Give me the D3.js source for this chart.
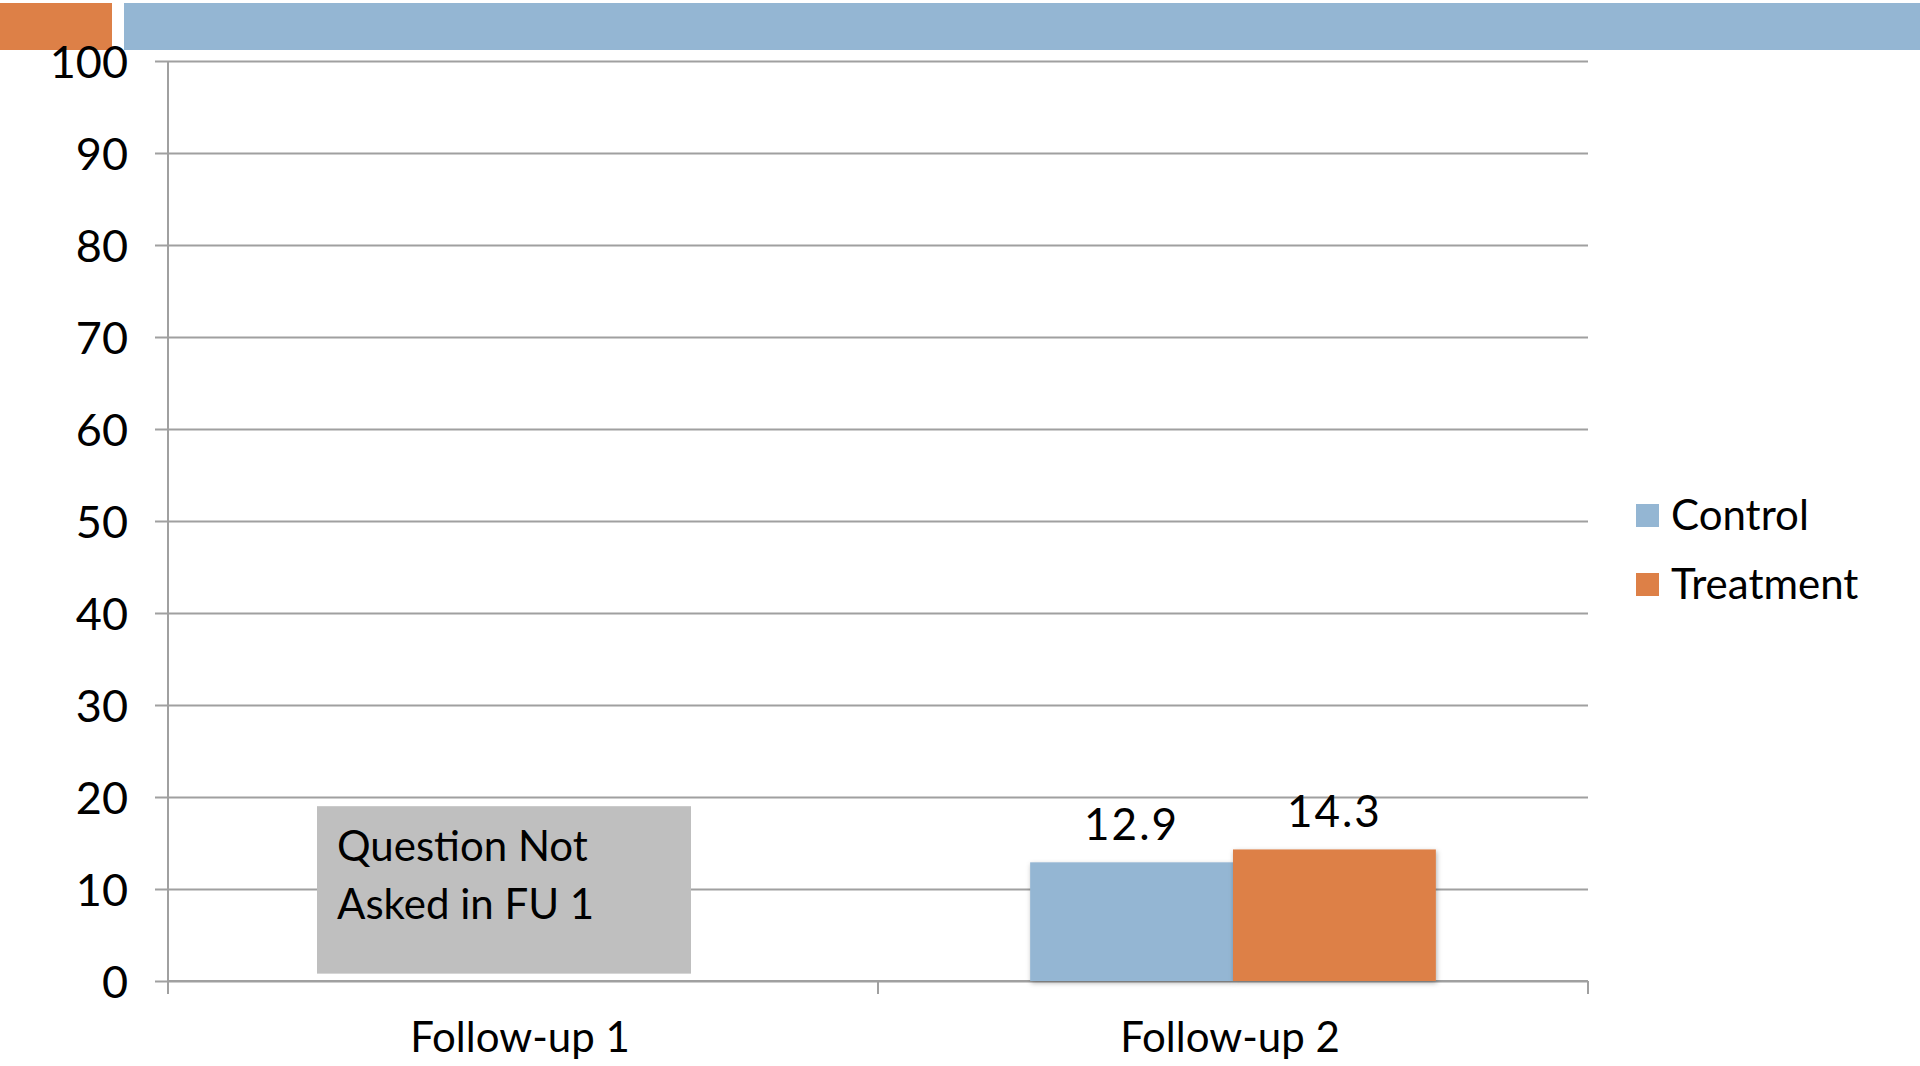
<!DOCTYPE html>
<html>
<head>
<meta charset="utf-8">
<script src="https://cdn.jsdelivr.net/npm/d3@7"></script>
<style>
  html, body { margin: 0; padding: 0; background: #ffffff; }
  svg { display: block; }
  text { font-family: "Lato", "Open Sans", sans-serif; fill: #000; }
</style>
</head>
<body>
<svg id="chart" width="1920" height="1066"></svg>
<script>
// Survey follow-up rounds and group results (%)
const categories = ["Follow-up 1", "Follow-up 2"];
const seriesNames = ["Control", "Treatment"];
const controlValues = [null, 12.9];
const treatmentValues = [null, 14.3];
const yTicks = [0, 10, 20, 30, 40, 50, 60, 70, 80, 90, 100];
const noteLines = ["Question Not", "Asked in FU 1"];
const noteRange = [0.8, 19];

const colors = { Control: "#94b6d3", Treatment: "#dd8047" };

const svg = d3.select("#chart");
const W = 1920, H = 1066;
const m = { left: 168, right: 1588, top: 61, bottom: 981 };

// Header banner strips
svg.append("rect").attr("x", 0).attr("y", 3).attr("width", 112).attr("height", 47).attr("fill", "#dd8047");
svg.append("rect").attr("x", 124).attr("y", 3).attr("width", W - 124).attr("height", 47).attr("fill", "#94b6d3");

const x0 = d3.scaleBand().domain(categories).range([m.left, m.right]).paddingInner(0).paddingOuter(0);
const x1 = d3.scaleBand().domain(seriesNames).range([0, x0.bandwidth()]).paddingInner(0).paddingOuter(0.75);
const y = d3.scaleLinear().domain([0, 100]).range([m.bottom, m.top]);

// Horizontal gridlines with outward ticks
const yAxis = d3.axisLeft(y).tickValues(yTicks).tickSize(-(m.right - m.left)).tickPadding(40).tickFormat(d3.format("d"));
const gy = svg.append("g").attr("transform", `translate(${m.left},0)`).call(yAxis);
gy.select(".domain").remove();
gy.selectAll(".tick line").attr("stroke", "#a0a0a0").attr("stroke-width", 2).attr("x1", -13);
gy.selectAll(".tick text").attr("font-size", 45).attr("font-family", "Lato, sans-serif").attr("fill", "#000").attr("dy", "0.36em");

// Vertical axis line
svg.append("line").attr("x1", m.left).attr("x2", m.left).attr("y1", m.top).attr("y2", m.bottom + 13)
  .attr("stroke", "#a0a0a0").attr("stroke-width", 2);

// Category axis with boundary ticks
const gx = svg.append("g").attr("transform", `translate(0,${m.bottom})`);
gx.append("line").attr("x1", m.left).attr("x2", m.right).attr("stroke", "#a0a0a0").attr("stroke-width", 2);
const bounds = categories.map(c => x0(c)).concat([x0(categories[categories.length - 1]) + x0.bandwidth()]);
gx.selectAll("line.bt").data(bounds).join("line").attr("class", "bt")
  .attr("x1", d => d).attr("x2", d => d).attr("y1", 0).attr("y2", 13)
  .attr("stroke", "#a0a0a0").attr("stroke-width", 2);
gx.selectAll("text").data(categories).join("text")
  .attr("x", d => x0(d) + x0.bandwidth() / 2 - 3)
  .attr("y", 71)
  .attr("text-anchor", "middle")
  .attr("font-size", 42)
  .text(d => d);

// Bars
const defs = svg.append("defs");
const f = defs.append("filter").attr("id", "shadow").attr("x", "-10%").attr("y", "-10%").attr("width", "120%").attr("height", "120%");
f.append("feDropShadow").attr("dx", 1).attr("dy", 2).attr("stdDeviation", 2.5).attr("flood-color", "#000").attr("flood-opacity", 0.3);

const rows = categories.map((c, i) => ({ cat: c, vals: [
  { name: "Control", v: controlValues[i] },
  { name: "Treatment", v: treatmentValues[i] }
]}));

const groups = svg.append("g").selectAll("g").data(rows).join("g")
  .attr("transform", d => `translate(${x0(d.cat)},0)`);
groups.selectAll("rect").data(d => d.vals.filter(v => v.v != null)).join("rect")
  .attr("x", d => x1(d.name))
  .attr("y", d => y(d.v))
  .attr("width", x1.bandwidth())
  .attr("height", d => y(0) - y(d.v))
  .attr("fill", d => colors[d.name])
  .attr("filter", "url(#shadow)");
groups.selectAll("text").data(d => d.vals.filter(v => v.v != null)).join("text")
  .attr("x", d => x1(d.name) + x1.bandwidth() / 2)
  .attr("y", d => y(d.v) - 22)
  .attr("text-anchor", "middle")
  .attr("font-size", 44)
  .attr("letter-spacing", 2)
  .text(d => d3.format(".1f")(d.v));

// Note box for the round where the question was not asked
const nx = x0(categories[0]) + 149;
const nb = svg.append("g");
nb.append("rect").attr("x", nx).attr("y", y(noteRange[1]))
  .attr("width", 374).attr("height", y(noteRange[0]) - y(noteRange[1]))
  .attr("fill", "#bfbfbf");
nb.selectAll("text").data(noteLines).join("text")
  .attr("x", nx + 20)
  .attr("y", (d, i) => y(noteRange[1]) + 55 + i * 58)
  .attr("font-size", 42)
  .text(d => d);

// Legend
const lg = svg.append("g").attr("transform", "translate(1636,515)");
const li = lg.selectAll("g").data(seriesNames).join("g").attr("transform", (d, i) => `translate(0,${i * 69})`);
li.append("rect").attr("x", 0).attr("y", -11).attr("width", 23).attr("height", 23).attr("fill", d => colors[d]);
li.append("text").attr("x", 35).attr("y", 0).attr("dy", "0.36em").attr("font-size", 42).text(d => d);
</script>
</body>
</html>
